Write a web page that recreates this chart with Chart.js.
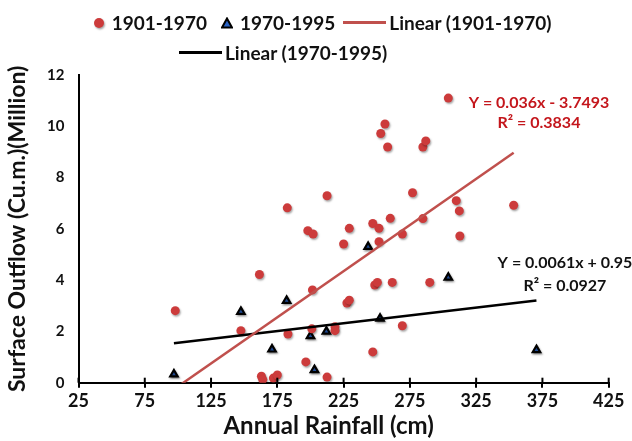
<!DOCTYPE html>
<html>
<head>
<meta charset="utf-8">
<script src="https://cdn.jsdelivr.net/npm/chart.js@4.4.1/dist/chart.umd.min.js"></script>
<style>
  body { margin: 0; background: #fff; }
  #wrap { position: relative; width: 632px; height: 441px; }
  #legend { position: absolute; left: 0; top: 0; width: 632px; height: 70px; font: bold 19px Lato, sans-serif; color: #111; }
  .item { position: absolute; display: flex; align-items: center; height: 22px; line-height: 22px; white-space: nowrap; }
  .mark { display: inline-block; flex: none; }
</style>
</head>
<body>
<div id="wrap">
  <canvas id="chart" width="632" height="441"></canvas>
  <div id="legend"></div>
</div>
<script>
// rainfall (cm) vs surface outflow (million cu.m.)
var seriesNames = ['1901-1970', '1970-1995'];

var rain1901 = [98, 161.5, 147.5, 163, 164, 172, 175, 182.5, 183, 196.5,
                198, 202, 201.5, 201, 212.5, 212.5, 218.5, 218.5, 225, 227.5,
                229.3, 229.3, 247, 247, 248.5, 250.5, 251.7, 251.7, 253, 256.2,
                258.2, 260.2, 261.7, 269.3, 269.3, 277, 284.8, 287, 284.8, 290,
                304, 310, 312.3, 312.7, 353.3];
var outflow1901 = [2.81, 4.22, 2.03, 0.25, 0.12, 0.18, 0.3, 6.82, 1.9, 0.81,
                   5.93, 5.8, 3.62, 2.1, 7.29, 0.22, 2.18, 2.03, 5.41, 3.11,
                   3.22, 6.02, 6.21, 1.2, 3.81, 3.91, 6.02, 5.5, 9.72, 10.09,
                   9.19, 6.41, 3.91, 5.8, 2.22, 7.41, 9.19, 9.43, 6.4, 3.91,
                   11.1, 7.1, 6.7, 5.72, 6.92];

var rain1970 = [97, 147.5, 171, 182, 200, 203, 212, 243.5, 252.5, 304, 370.5];
var outflow1970 = [0.33, 2.77, 1.3, 3.2, 1.82, 0.5, 2.0, 5.3, 2.5, 4.1, 1.28];

// trendline coefficients as printed on the chart
var slopes = [0.036, 0.0061];
var intercepts = [-3.7493, 0.95];
var rSquared = ['0.3834', '0.0927'];

var xTicks = [25, 75, 125, 175, 225, 275, 325, 375, 425];
var yTicks = [0, 2, 4, 6, 8, 10, 12];
var xTitle = 'Annual Rainfall (cm)';
var yTitle = 'Surface Outflow (Cu.m.)(Million)';

var red = '#cc3b3b', redLine = '#c0504d', redText = '#c4161c', ink = '#111';

function toPoints(xs, ys) {
  return xs.map(function (x, i) { return { x: x, y: ys[i] }; });
}
function trend(xs, k) {
  var lo = Math.min.apply(null, xs), hi = Math.max.apply(null, xs);
  return [lo, hi].map(function (x) { return { x: x, y: slopes[k] * x + intercepts[k] }; });
}
function equation(k) {
  var b = intercepts[k];
  return 'Y = ' + slopes[k] + 'x ' + (b < 0 ? '- ' : '+ ') + Math.abs(b);
}

Chart.defaults.font.family = 'Lato';
Chart.defaults.font.weight = 'bold';
Chart.defaults.color = ink;

// soft drop shadow on the markers, like the Excel original
var shadow = {
  id: 'shadow',
  beforeDatasetDraw: function (chart, args) {
    chart.ctx.save();
    if (args.meta.type === 'scatter') {
      chart.ctx.shadowColor = 'rgba(0,0,0,0.35)';
      chart.ctx.shadowBlur = 2;
      chart.ctx.shadowOffsetX = 1;
      chart.ctx.shadowOffsetY = 1.5;
    }
  },
  afterDatasetDraw: function (chart) { chart.ctx.restore(); }
};

// tick marks cross the x axis, equation labels, x title (sits a bit left of centre)
var extras = {
  id: 'extras',
  afterDraw: function (chart) {
    var ctx = chart.ctx, xs = chart.scales.x, ys = chart.scales.y, area = chart.chartArea;
    var base = area.bottom;
    ctx.save();
    ctx.strokeStyle = '#000';
    ctx.lineWidth = 2;
    xTicks.forEach(function (v) {
      var px = xs.getPixelForValue(v);
      ctx.beginPath(); ctx.moveTo(px, base - 5); ctx.lineTo(px, base); ctx.stroke();
    });
    var notes = [
      { k: 0, x: 372.4, y: 10.9, color: redText },
      { k: 1, x: 392, y: 4.66, color: ink }
    ];
    ctx.font = 'bold 16px Lato';
    ctx.textAlign = 'center';
    ctx.textBaseline = 'middle';
    notes.forEach(function (n) {
      var px = xs.getPixelForValue(n.x), py = ys.getPixelForValue(n.y);
      ctx.fillStyle = n.color;
      ctx.fillText(equation(n.k), px, py);
      ctx.fillText('R\u00b2 = ' + rSquared[n.k], px, py + (n.k ? 22.7 : 20));
    });
    ctx.font = 'bold 24px Lato';
    ctx.fillStyle = ink;
    ctx.fillText(xTitle, (area.left + area.right) / 2 - 15, chart.height - 14.4);
    ctx.restore();
  }
};

var ctx = document.getElementById('chart').getContext('2d');
var chart = new Chart(ctx, {
  type: 'scatter',
  data: {
    datasets: [{
      label: seriesNames[0],
      data: toPoints(rain1901, outflow1901),
      backgroundColor: red,
      borderWidth: 0,
      pointRadius: 4.5,
      order: 1
    }, {
      label: seriesNames[1],
      data: toPoints(rain1970, outflow1970),
      pointStyle: 'triangle',
      backgroundColor: '#2a63c4',
      borderColor: '#000',
      borderWidth: 2.2,
      pointRadius: 4.3,
      order: 1
    }, {
      type: 'line',
      label: 'Linear (' + seriesNames[0] + ')',
      data: trend(rain1901, 0),
      borderColor: redLine,
      borderWidth: 2.5,
      pointRadius: 0,
      fill: false,
      order: 0
    }, {
      type: 'line',
      label: 'Linear (' + seriesNames[1] + ')',
      data: trend(rain1970, 1),
      borderColor: '#000',
      borderWidth: 2.5,
      pointRadius: 0,
      fill: false,
      order: 0
    }]
  },
  options: {
    responsive: false,
    animation: false,
    layout: { padding: { top: 75, right: 23.3, left: 0, bottom: 0 } },
    plugins: {
      legend: { display: false },
      tooltip: { enabled: false }
    },
    scales: {
      x: {
        type: 'linear',
        min: xTicks[0],
        max: xTicks[xTicks.length - 1],
        afterBuildTicks: function (s) { s.ticks = xTicks.map(function (v) { return { value: v }; }); },
        afterFit: function (s) { s.height = 58.3; },
        grid: { drawOnChartArea: false, drawTicks: true, tickLength: 5, color: '#000', lineWidth: 2 },
        border: { color: '#000', width: 2 },
        ticks: { padding: 2.5, font: { size: 18, weight: 'bold' }, color: ink },
        title: { display: false, text: xTitle }
      },
      y: {
        min: yTicks[0],
        max: yTicks[yTicks.length - 1],
        afterBuildTicks: function (s) { s.ticks = yTicks.map(function (v) { return { value: v }; }); },
        afterFit: function (s) { s.width = 78.5; },
        grid: { drawOnChartArea: false, drawTicks: false },
        border: { color: '#000', width: 2 },
        ticks: { padding: 14, font: { size: 15, weight: 'bold' }, color: ink },
        title: {
          display: true,
          text: yTitle,
          font: { size: 23, weight: 'bold' },
          color: ink,
          padding: { top: 4, bottom: 0 }
        }
      }
    }
  },
  plugins: [shadow, extras]
});

// legend laid out like the original (two rows, second row offset)
var slots = [
  { left: 94.3, top: 11.7, w: 10, gap: 7.4 },
  { left: 220.7, top: 11.7, w: 12, gap: 7.3 },
  { left: 342.7, top: 11.7, w: 43.3, gap: 3.3 },
  { left: 179.3, top: 41.7, w: 42.4, gap: 3.3 }
];
var legend = document.getElementById('legend');
chart.data.datasets.forEach(function (ds, i) {
  var s = slots[i];
  var item = document.createElement('div');
  item.className = 'item';
  item.style.left = s.left + 'px';
  item.style.top = s.top + 'px';
  var mark;
  if (ds.type === 'line') {
    mark = document.createElement('span');
    mark.style.height = '3.5px';
    mark.style.background = ds.borderColor;
  } else if (ds.pointStyle === 'triangle') {
    mark = document.createElementNS('http://www.w3.org/2000/svg', 'svg');
    mark.setAttribute('width', s.w);
    mark.setAttribute('height', 12);
    mark.innerHTML = '<polygon points="6,1.5 11,10.5 1,10.5" fill="' + ds.backgroundColor +
      '" stroke="#000" stroke-width="2" stroke-linejoin="miter"/>';
  } else {
    mark = document.createElement('span');
    mark.style.height = s.w + 'px';
    mark.style.borderRadius = '50%';
    mark.style.background = ds.backgroundColor;
    mark.style.boxShadow = '1px 1.5px 2px rgba(0,0,0,0.35)';
  }
  mark.classList.add('mark');
  mark.style.width = s.w + 'px';
  mark.style.marginRight = s.gap + 'px';
  var txt = document.createElement('span');
  txt.textContent = ds.label;
  item.appendChild(mark);
  item.appendChild(txt);
  legend.appendChild(item);
});
</script>
</body>
</html>
